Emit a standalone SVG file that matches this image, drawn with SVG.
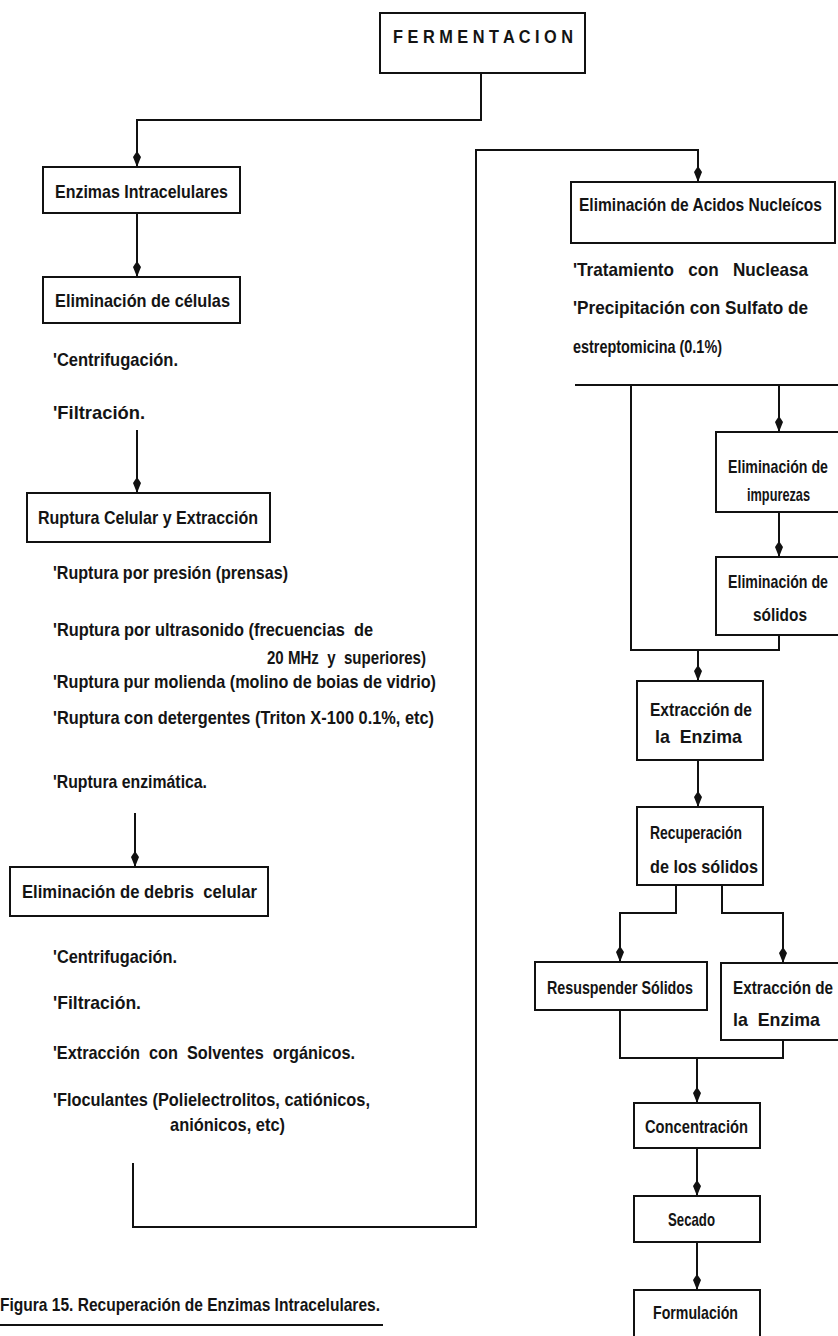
<svg xmlns="http://www.w3.org/2000/svg" width="838" height="1336" viewBox="0 0 838 1336">
  <style>
    .box { fill: none; stroke: #111; stroke-width: 2; }
    .ln { fill: none; stroke: #111; stroke-width: 2; }
    .arr { marker-end: url(#ah); }
    text { font-family: "Liberation Sans Narrow", "Liberation Sans", "DejaVu Sans Condensed", sans-serif; font-weight: bold; font-size: 18.5px; fill: #141414; }
  </style>
  <defs>
    <marker id="ah" markerUnits="userSpaceOnUse" viewBox="-17 -6 19 12" markerWidth="19" markerHeight="12" refX="0" refY="0" orient="auto">
      <path d="M0,0 L-10,-4 L-16,0 L-10,4 z" fill="#111"/>
    </marker>
  </defs>
  <rect x="0" y="0" width="838" height="1336" fill="#fff"/>

  <!-- connectors -->
  <g id="connectors">
    <path class="ln arr" d="M481,73 V120 H137 V167"/>
    <path class="ln arr" d="M137,213 V277"/>
    <path class="ln arr" d="M137,430 V493"/>
    <path class="ln arr" d="M135,813 V867"/>
    <path class="ln arr" d="M133,1163 V1227 H476 V150 H698 V182"/>
    <path class="ln" d="M575,385 H840"/>
    <path class="ln arr" d="M779,385 V432"/>
    <path class="ln arr" d="M779,512 V557"/>
    <path class="ln" d="M631,385 V650 H779 V635"/>
    <path class="ln arr" d="M698,650 V681"/>
    <path class="ln arr" d="M698,760 V807"/>
    <path class="ln arr" d="M676,885 V913 H620 V962"/>
    <path class="ln arr" d="M722,885 V913 H783 V963"/>
    <path class="ln" d="M620,1010 V1058 H783 V1040"/>
    <path class="ln arr" d="M697,1058 V1103"/>
    <path class="ln arr" d="M697,1148 V1196"/>
    <path class="ln arr" d="M697,1242 V1290"/>
  </g>

  <!-- left branch -->
  <g id="fermentacion">
    <rect class="box" x="380" y="13" width="205" height="60"/>
    <text x="393" y="43" textLength="180" lengthAdjust="spacingAndGlyphs">F E R M E N T A C I O N</text>
  </g>
  <g id="enzimas-intracelulares">
    <rect class="box" x="43" y="167" width="197" height="46"/>
    <text x="55" y="198" textLength="173" lengthAdjust="spacingAndGlyphs">Enzimas Intracelulares</text>
  </g>
  <g id="eliminacion-celulas">
    <rect class="box" x="43" y="277" width="197" height="46"/>
    <text x="55" y="307" textLength="175" lengthAdjust="spacingAndGlyphs">Eliminación de células</text>
    <text x="53" y="366" textLength="125" lengthAdjust="spacingAndGlyphs">'Centrifugación.</text>
    <text x="53" y="419" textLength="92" lengthAdjust="spacingAndGlyphs">'Filtración.</text>
  </g>
  <g id="ruptura-celular">
    <rect class="box" x="27" y="493" width="243" height="49"/>
    <text x="38" y="524" textLength="220" lengthAdjust="spacingAndGlyphs">Ruptura Celular y Extracción</text>
    <text x="53" y="579" textLength="235" lengthAdjust="spacingAndGlyphs">'Ruptura por presión (prensas)</text>
    <text x="53" y="636" textLength="320" lengthAdjust="spacingAndGlyphs" xml:space="preserve">'Ruptura por ultrasonido (frecuencias  de</text>
    <text x="267" y="664" textLength="159" lengthAdjust="spacingAndGlyphs" xml:space="preserve">20 MHz  y  superiores)</text>
    <text x="53" y="688" textLength="383" lengthAdjust="spacingAndGlyphs">'Ruptura pur molienda (molino de boias de vidrio)</text>
    <text x="53" y="724" textLength="381" lengthAdjust="spacingAndGlyphs">'Ruptura con detergentes (Triton X-100 0.1%, etc)</text>
    <text x="53" y="788" textLength="154" lengthAdjust="spacingAndGlyphs">'Ruptura enzimática.</text>
  </g>
  <g id="eliminacion-debris">
    <rect class="box" x="10" y="867" width="258" height="49"/>
    <text x="22" y="898" textLength="235" lengthAdjust="spacingAndGlyphs" xml:space="preserve">Eliminación de debris  celular</text>
    <text x="53" y="963" textLength="124" lengthAdjust="spacingAndGlyphs">'Centrifugación.</text>
    <text x="53" y="1009" textLength="88" lengthAdjust="spacingAndGlyphs">'Filtración.</text>
    <text x="53" y="1059" textLength="302" lengthAdjust="spacingAndGlyphs" xml:space="preserve">'Extracción  con  Solventes  orgánicos.</text>
    <text x="53" y="1106" textLength="317" lengthAdjust="spacingAndGlyphs">'Floculantes (Polielectrolitos, catiónicos,</text>
    <text x="170" y="1131" textLength="115" lengthAdjust="spacingAndGlyphs">aniónicos, etc)</text>
  </g>

  <!-- right branch -->
  <g id="acidos-nucleicos">
    <rect class="box" x="571" y="182" width="264" height="61"/>
    <text x="579" y="211" textLength="243" lengthAdjust="spacingAndGlyphs">Eliminación de Acidos Nucleícos</text>
    <text x="573" y="276" textLength="235" lengthAdjust="spacingAndGlyphs" xml:space="preserve">'Tratamiento   con   Nucleasa</text>
    <text x="573" y="314" textLength="235" lengthAdjust="spacingAndGlyphs">'Precipitación con Sulfato de</text>
    <text x="573" y="353" textLength="149" lengthAdjust="spacingAndGlyphs">estreptomicina (0.1%)</text>
  </g>
  <g id="impurezas">
    <rect class="box" x="716" y="432" width="130" height="80"/>
    <text x="728" y="473" textLength="100" lengthAdjust="spacingAndGlyphs">Eliminación de</text>
    <text x="747" y="501" textLength="63" lengthAdjust="spacingAndGlyphs">impurezas</text>
  </g>
  <g id="solidos">
    <rect class="box" x="716" y="557" width="130" height="78"/>
    <text x="728" y="588" textLength="100" lengthAdjust="spacingAndGlyphs">Eliminación de</text>
    <text x="753" y="621" textLength="54" lengthAdjust="spacingAndGlyphs">sólidos</text>
  </g>
  <g id="extraccion-enzima">
    <rect class="box" x="637" y="681" width="126" height="79"/>
    <text x="650" y="716" textLength="102" lengthAdjust="spacingAndGlyphs">Extracción de</text>
    <text x="655" y="743" textLength="87" lengthAdjust="spacingAndGlyphs" xml:space="preserve">la  Enzima</text>
  </g>
  <g id="recuperacion-solidos">
    <rect class="box" x="637" y="807" width="126" height="78"/>
    <text x="650" y="839" textLength="92" lengthAdjust="spacingAndGlyphs">Recuperación</text>
    <text x="650" y="873" textLength="108" lengthAdjust="spacingAndGlyphs">de los sólidos</text>
  </g>
  <g id="resuspender">
    <rect class="box" x="535" y="962" width="172" height="48"/>
    <text x="547" y="994" textLength="146" lengthAdjust="spacingAndGlyphs">Resuspender Sólidos</text>
  </g>
  <g id="extraccion-enzima-2">
    <rect class="box" x="721" y="963" width="125" height="77"/>
    <text x="733" y="994" textLength="100" lengthAdjust="spacingAndGlyphs">Extracción de</text>
    <text x="733" y="1026" textLength="87" lengthAdjust="spacingAndGlyphs" xml:space="preserve">la  Enzima</text>
  </g>
  <g id="concentracion">
    <rect class="box" x="634" y="1103" width="126" height="45"/>
    <text x="645" y="1133" textLength="103" lengthAdjust="spacingAndGlyphs">Concentración</text>
  </g>
  <g id="secado">
    <rect class="box" x="634" y="1196" width="126" height="46"/>
    <text x="668" y="1226" textLength="47" lengthAdjust="spacingAndGlyphs">Secado</text>
  </g>
  <g id="formulacion">
    <rect class="box" x="634" y="1290" width="126" height="60"/>
    <text x="653" y="1319" textLength="85" lengthAdjust="spacingAndGlyphs">Formulación</text>
  </g>

  <!-- caption -->
  <g id="caption">
    <text x="0" y="1311" textLength="380" lengthAdjust="spacingAndGlyphs">Figura 15. Recuperación de Enzimas Intracelulares.</text>
    <path class="ln" d="M0,1325 H383"/>
  </g>
</svg>
